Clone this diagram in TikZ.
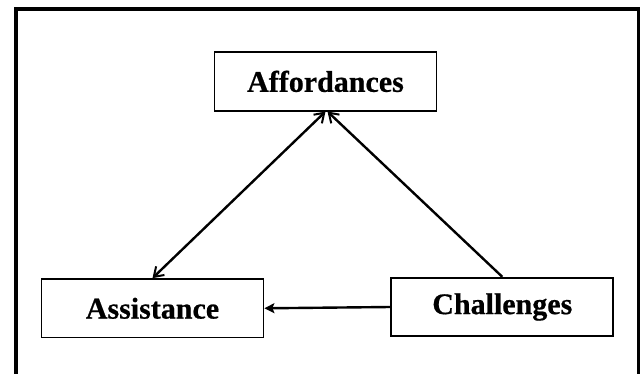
\documentclass[tikz,border=0pt]{standalone}
\usepackage{fontspec}
\newfontfamily\lblfont{Liberation Serif}[BoldFeatures={FakeBold=0.6}]
\usetikzlibrary{arrows.meta}
\tikzset{vbarb/.tip={Straight Barb[length=9pt,width=12pt,line width=2pt]},
  fstealth/.tip={Stealth[length=10pt,width=10pt,inset=2pt]}}
\begin{document}
\begin{tikzpicture}[x=1pt,y=-1pt,
  box/.style={draw=black, line width=1.8pt, minimum width=222pt, minimum height=58.5pt,
    inner sep=0pt, font=\lblfont\bfseries\fontsize{30pt}{32pt}\selectfont},
  link/.style={line width=2.4pt},
  frame/.style={line width=3.5pt}]
\useasboundingbox (0,0) rectangle (640,374);
\clip (0,0) rectangle (640,374);
\fill[white] (0,0) rectangle (640,374);
\draw[frame] (15.8,380) -- (15.8,9) -- (638.3,9) -- (638.3,380);
\node[box] (aff) at (325.5,81.4) {Affordances};
\node[box] (ass) at (152.5,308.3) {Assistance};
\node[box] (cha) at (502.3,307) {Challenges};
\draw[link,vbarb-vbarb] (ass.north) -- (aff.south);
\draw[link,-vbarb] (cha.north) -- ([xshift=2pt]aff.south);
\draw[link,-fstealth] (cha.west) -- (ass.east);
\end{tikzpicture}
\end{document}
